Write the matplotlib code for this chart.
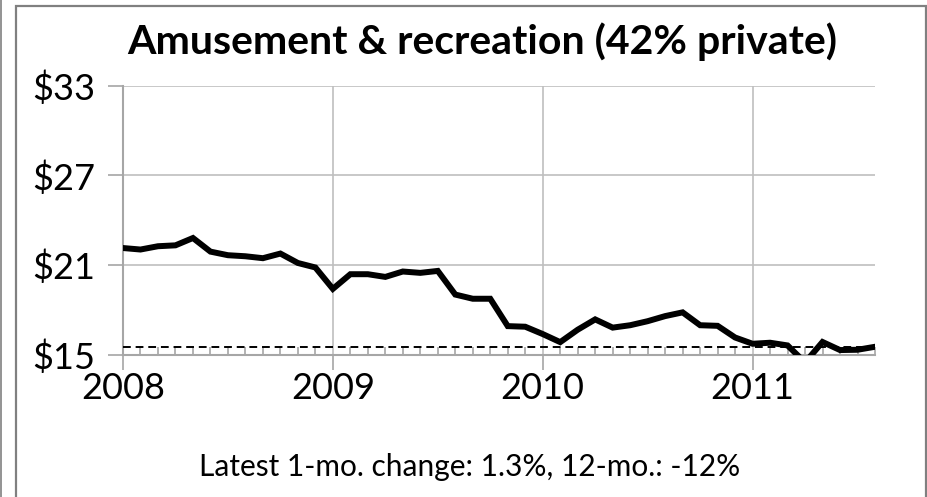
import matplotlib
matplotlib.use("Agg")
import matplotlib.pyplot as plt
from matplotlib.patches import Rectangle
from matplotlib.lines import Line2D
import numpy as np

plt.rcParams['font.family'] = ['Lato', 'DejaVu Sans']

title = "Amusement & recreation (42% private)"
footer = "Latest 1-mo. change: 1.3%, 12-mo.: -12%"
year_labels = ["2008", "2009", "2010", "2011"]
y_ticks = [15, 21, 27, 33]
y_tick_labels = ["$15", "$21", "$27", "$33"]

# monthly values Jan 2008 - Aug 2011 (billions $)
values = [22.15, 22.05, 22.27, 22.33, 22.82, 21.91, 21.67, 21.60, 21.47, 21.78,
          21.15, 20.85, 19.42, 20.40, 20.40, 20.22, 20.58, 20.49, 20.62, 19.04,
          18.76, 18.76, 16.93, 16.89, 16.40, 15.86, 16.69, 17.38, 16.83, 16.99,
          17.26, 17.60, 17.85, 16.99, 16.95, 16.17, 15.75, 15.82, 15.64, 14.50,
          15.87, 15.33, 15.35, 15.55]
latest = values[-1]

months = np.arange(len(values))

fig = plt.figure(figsize=(9.28, 4.97), dpi=100)
fig.patch.set_facecolor('white')

# outer frame
fig.add_artist(Rectangle((16/928, -0.1), (926-16)/928, 1 - 6/497 + 0.1,
                         transform=fig.transFigure, fill=False,
                         edgecolor='#808080', linewidth=1.6))
fig.add_artist(Line2D([0.5/928, 0.5/928], [0, 1], transform=fig.transFigure,
                      color='#808080', linewidth=1.2))

ax = fig.add_axes([123/928, 1 - 355/497, (875-123)/928, (355-85.7)/497])
ax.plot(months, values, color='black', linewidth=4.3, solid_joinstyle='miter',
        clip_on=True, zorder=5)
ax.axhline(latest, color='black', linewidth=1.4, linestyle=(0, (4, 2.5)), zorder=4)

ax.set_xlim(0, len(values) - 1)
ax.set_ylim(15, 33)
ax.set_yticks(y_ticks)
ax.set_yticklabels(y_tick_labels)
ax.set_xticks([0, 12, 24, 36])
ax.set_xticklabels(year_labels)
ax.set_xticks(months, minor=True)

ax.grid(True, which='major', color='#bfbfbf', linewidth=1.2)
ax.set_axisbelow(True)
for s in ['top', 'right']:
    ax.spines[s].set_visible(False)
for s in ['left', 'bottom']:
    ax.spines[s].set_color('#a6a6a6')
    ax.spines[s].set_linewidth(1.5)

ax.tick_params(axis='both', which='major', labelsize=26, color='#a6a6a6',
               length=11, width=1.2, direction='out')
ax.tick_params(axis='x', which='major', pad=1)
ax.tick_params(axis='y', which='major', pad=9)
ax.tick_params(axis='x', which='minor', direction='in', length=6, width=1.2,
               color='#a6a6a6')

fig.text(482/928, 1 - 42/497, title, ha='center', va='center',
         fontsize=29.5, fontweight='bold')
fig.text(470/928, 1 - 467/497, footer, ha='center', va='center', fontsize=21.5)

fig.savefig("out.png", dpi=100)
